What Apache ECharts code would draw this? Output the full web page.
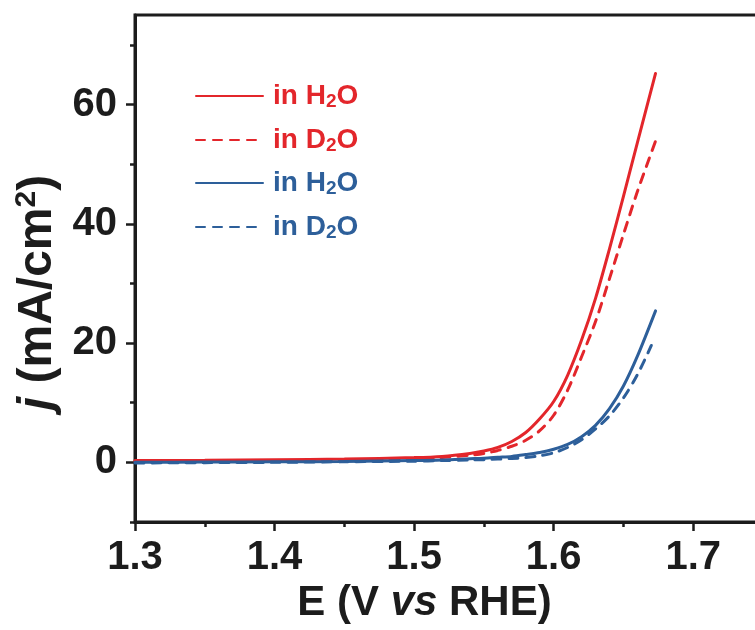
<!DOCTYPE html>
<html>
<head>
<meta charset="utf-8">
<script src="https://cdn.jsdelivr.net/npm/echarts@6/dist/echarts.min.js"></script>
<style>
  html, body { margin: 0; padding: 0; background: #fff; }
  #chart { width: 755px; height: 630px; }
</style>
</head>
<body>
<div id="chart"></div>
<script>
// Polarization curves: current density j vs potential E
const potentialA = [1.30, 1.35, 1.40, 1.45, 1.50, 1.52, 1.54, 1.55, 1.56, 1.57, 1.58, 1.59, 1.60, 1.61, 1.62, 1.63, 1.64, 1.65, 1.66, 1.673];
const redH2O     = [0.30, 0.35, 0.45, 0.55, 0.80, 1.00, 1.50, 1.90, 2.50, 3.50, 5.00, 7.30, 10.2, 14.6, 20.5, 27.5, 35.8, 44.6, 53.6, 65.2];

const potentialB = [1.30, 1.35, 1.40, 1.45, 1.50, 1.52, 1.54, 1.55, 1.56, 1.57, 1.58, 1.59, 1.60, 1.61, 1.62, 1.63, 1.64, 1.65, 1.66, 1.674];
const redD2O     = [0.20, 0.25, 0.30, 0.40, 0.60, 0.80, 1.20, 1.50, 2.00, 2.70, 3.70, 5.30, 7.90, 12.1, 17.7, 23.6, 30.8, 38.2, 45.4, 54.5];

const potentialC = [1.30, 1.35, 1.40, 1.45, 1.50, 1.52, 1.54, 1.55, 1.56, 1.57, 1.58, 1.59, 1.60, 1.61, 1.62, 1.63, 1.64, 1.65, 1.66, 1.673];
const blueH2O    = [0.00, 0.05, 0.10, 0.15, 0.30, 0.40, 0.60, 0.70, 0.85, 1.00, 1.30, 1.65, 2.20, 3.00, 4.30, 6.20, 9.00, 12.8, 17.8, 25.4];

const potentialD = [1.30, 1.35, 1.40, 1.45, 1.50, 1.52, 1.54, 1.55, 1.56, 1.57, 1.58, 1.59, 1.60, 1.61, 1.62, 1.63, 1.64, 1.65, 1.66, 1.670];
const blueD2O    = [-0.10, -0.05, 0.00, 0.10, 0.20, 0.30, 0.40, 0.45, 0.55, 0.65, 0.80, 1.10, 1.60, 2.50, 3.80, 5.60, 7.80, 10.8, 14.7, 19.6];

const xTickLabels = [1.3, 1.4, 1.5, 1.6, 1.7];
const yTickLabels = [0, 20, 40, 60];
const yMinorTicks = [-10, 10, 30, 50, 70];

const RED = '#e3262b';
const BLUE = '#2d5f9a';
const INK = '#1c1c1c';
const FONT = '"Liberation Sans", Arial, Helvetica, sans-serif';

const pairs = (xs, ys) => xs.map((x, i) => [x, ys[i]]);

const seriesDefs = [
  { name: 'A in H2O', x: potentialA, y: redH2O, color: RED, dash: 'solid', sub: 'H' },
  { name: 'A in D2O', x: potentialB, y: redD2O, color: RED, dash: [9, 8], sub: 'D' },
  { name: 'B in H2O', x: potentialC, y: blueH2O, color: BLUE, dash: 'solid', sub: 'H' },
  { name: 'B in D2O', x: potentialD, y: blueD2O, color: BLUE, dash: [9, 8], sub: 'D' }
];

const legendTops = [82, 126, 169, 213];

const chart = echarts.init(document.getElementById('chart'), null, { renderer: 'canvas' });

chart.setOption({
  animation: false,
  backgroundColor: '#fff',
  grid: {
    left: 135, right: -8, top: 15, bottom: 108,
    containLabel: false,
    outerBoundsMode: 'none',
    show: true, borderColor: INK, borderWidth: 3, backgroundColor: 'transparent'
  },
  legend: seriesDefs.map((s, i) => ({
    data: [s.name],
    left: 195,
    top: legendTops[i],
    padding: 0,
    itemWidth: 67,
    itemHeight: 14,
    selectedMode: false,
    itemStyle: { opacity: 0 },
    formatter: () => '{t|in ' + s.sub + '}{s|2}{t|O}',
    textStyle: {
      color: s.color,
      padding: [0, 0, 0, 5],
      rich: {
        t: { fontFamily: FONT, fontWeight: 'bold', fontSize: 28, color: s.color, lineHeight: 30 },
        s: { fontFamily: FONT, fontWeight: 'bold', fontSize: 19, color: s.color, lineHeight: 30, verticalAlign: 'bottom', padding: [10, 0, 0, 0] }
      }
    }
  })),
  xAxis: {
    type: 'value',
    min: 1.3,
    max: 1.75,
    interval: 0.1,
    position: 'bottom',
    axisLine: { show: true, onZero: false, lineStyle: { color: INK, width: 3 } },
    axisTick: { show: true, inside: false, length: 9, lineStyle: { color: INK, width: 2.5 } },
    minorTick: { show: true, splitNumber: 2, length: 5, lineStyle: { color: INK, width: 2.5 } },
    splitLine: { show: false },
    axisLabel: {
      margin: 16,
      color: INK,
      fontFamily: FONT,
      fontWeight: 'bold',
      fontSize: 40,
      showMaxLabel: false,
      formatter: v => {
        const hit = xTickLabels.find(t => Math.abs(t - v) < 1e-6);
        return hit !== undefined ? hit.toFixed(1) : '';
      }
    },
    name: '{b|E (V }{i|vs}{b| RHE)}',
    nameLocation: 'middle',
    nameGap: 58,
    nameTextStyle: {
      padding: [0, 49, 0, 0],
      rich: {
        b: { fontFamily: FONT, fontWeight: 'bold', fontSize: 42, color: INK },
        i: { fontFamily: FONT, fontWeight: 'bold', fontStyle: 'italic', fontSize: 42, color: INK }
      }
    }
  },
  yAxis: [
    {
      type: 'value',
      min: -10,
      max: 75,
      position: 'left',
      axisLine: { show: true, onZero: false, lineStyle: { color: INK, width: 3 } },
      axisTick: { show: true, inside: false, length: 9, customValues: yTickLabels, lineStyle: { color: INK, width: 2.5 } },
      splitLine: { show: false },
      axisLabel: {
        margin: 18,
        color: INK,
        fontFamily: FONT,
        fontWeight: 'bold',
        fontSize: 40,
        customValues: yTickLabels
      },
      name: '{i|j}{b| (mA/cm}{s|2}{b|)}',
      nameLocation: 'middle',
      nameRotate: 90,
      nameGap: 70,
      nameTextStyle: {
        padding: [0, 48, 0, 0],
        rich: {
          i: { fontFamily: FONT, fontWeight: 'bold', fontStyle: 'italic', fontSize: 48, color: INK, lineHeight: 52 },
          b: { fontFamily: FONT, fontWeight: 'bold', fontSize: 48, color: INK, lineHeight: 52 },
          s: { fontFamily: FONT, fontWeight: 'bold', fontSize: 30, color: INK, lineHeight: 52, verticalAlign: 'top', padding: [0, 0, 15, 0] }
        }
      }
    },
    {
      type: 'value',
      min: -10,
      max: 75,
      position: 'left',
      axisLine: { show: false },
      axisTick: { show: true, inside: false, length: 5, customValues: yMinorTicks, lineStyle: { color: INK, width: 2.5 } },
      splitLine: { show: false },
      axisLabel: { show: false }
    }
  ],
  series: seriesDefs.map(s => ({
    name: s.name,
    type: 'line',
    yAxisIndex: 0,
    data: pairs(s.x, s.y),
    showSymbol: false,
    symbol: 'none',
    smooth: 0.3,
    color: s.color,
    lineStyle: { color: s.color, width: 3, type: s.dash, cap: 'round' }
  }))
});
</script>
</body>
</html>
